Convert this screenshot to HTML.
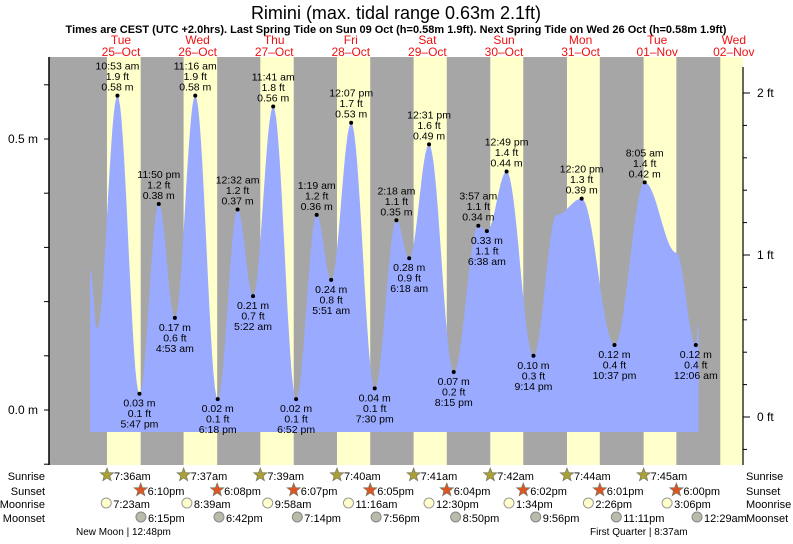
<!DOCTYPE html>
<html><head><meta charset="utf-8"><style>
body{margin:0;background:#fff;font-family:"Liberation Sans",sans-serif}
svg text{font-family:"Liberation Sans",sans-serif}
</style></head><body>
<svg id="chart" width="793" height="539" viewBox="0 0 793 539" xmlns="http://www.w3.org/2000/svg">
<text x="396" y="19" font-size="18" text-anchor="middle" fill="#000">Rimini (max. tidal range 0.63m 2.1ft)</text>
<text x="396" y="33" font-size="11" font-weight="bold" text-anchor="middle" fill="#000">Times are CEST (UTC +2.0hrs). Last Spring Tide on Sun 09 Oct (h=0.58m 1.9ft). Next Spring Tide on Wed 26 Oct (h=0.58m 1.9ft)</text>
<g id="bands"></g>
<g id="tide"></g>
<g id="axes"></g>
<g id="labels"></g>
<g id="astro"></g>
</svg>
<script>
const NS="http://www.w3.org/2000/svg";
const dayNames=["Tue","Wed","Thu","Fri","Sat","Sun","Mon","Tue","Wed"];
const dayDates=["25–Oct","26–Oct","27–Oct","28–Oct","29–Oct","30–Oct","31–Oct","01–Nov","02–Nov"];
const sunrise=["7:36am","7:37am","7:39am","7:40am","7:41am","7:42am","7:44am","7:45am","7:46am"];
const sunset=["6:10pm","6:08pm","6:07pm","6:05pm","6:04pm","6:02pm","6:01pm","6:00pm","5:59pm"];
const moonriseDay=[0,1,2,3,4,5,6,7];
const moonrise=["7:23am","8:39am","9:58am","11:16am","12:30pm","1:34pm","2:26pm","3:06pm"];
const moonsetDay=[0,1,2,3,4,5,6,8];
const moonset=["6:15pm","6:42pm","7:14pm","7:56pm","8:50pm","9:56pm","11:11pm","12:29am"];
// tide extremes (type x = unlabeled curve shape point)
const tideDay=[0,0,0,0,0,1,1,1,2,2,2,2,3,3,3,3,4,4,4,4,5,5,5,5,6,6,6,7,7,8,8];
const tideTime=["2:18 am","4:30 am","10:53 am","5:47 pm","11:50 pm","4:53 am","11:16 am","6:18 pm","12:32 am","5:22 am","11:41 am","6:52 pm","1:19 am","5:51 am","12:07 pm","7:30 pm","2:18 am","6:18 am","12:31 pm","8:15 pm","3:57 am","6:38 am","12:49 pm","9:14 pm","4:30 am","12:20 pm","10:37 pm","8:05 am","6:00 pm","12:06 am","1:00 am"];
const tideM=[0.26,0.15,0.58,0.03,0.38,0.17,0.58,0.02,0.37,0.21,0.56,0.02,0.36,0.24,0.53,0.04,0.35,0.28,0.49,0.07,0.34,0.33,0.44,0.10,0.36,0.39,0.12,0.42,0.29,0.12,0.16];
const tideFt=["","","1.9","0.1","1.2","0.6","1.9","0.1","1.2","0.7","1.8","0.1","1.2","0.8","1.7","0.1","1.1","0.9","1.6","0.2","1.1","1.1","1.4","0.3","","1.3","0.4","1.4","","0.4",""];
const tideType=["x","x","H","L","H","L","H","L","H","L","H","L","H","L","H","L","H","L","H","L","H","L","H","L","x","H","L","H","x","L","x"];
const ftTicks=[0,1,2];
const mTicks=[0,0.5];

const X0=82.7, DAY=76.6, TOP=57, BOT=465, LEFT=49, RIGHT=743;
function parseT(t){const m=t.match(/(\d+):(\d+)\s*(am|pm)/);let h=+m[1]%12;if(m[3]=="pm")h+=12;return h+(+m[2])/60;}
function xOf(day,t){return X0+day*DAY+parseT(t)*DAY/24;}
function yM(m){return 410-m*542;}
function yFt(f){return 417-f*162;}
function el(tag,attrs,parent,txt){const e=document.createElementNS(NS,tag);for(const k in attrs)e.setAttribute(k,attrs[k]);if(txt!==undefined)e.textContent=txt;parent.appendChild(e);return e;}

const bands=document.getElementById('bands');
let bg=el('rect',{x:LEFT,y:TOP,width:RIGHT-LEFT,height:BOT-TOP,fill:'#a6a6a6'},bands);


for(let i=0;i<9;i++){
  const a=xOf(i,sunrise[i]),b=Math.min(xOf(i,sunset[i]),RIGHT);
  if(a>=RIGHT)continue;
  const r=el('rect',{x:a,y:TOP,width:b-a,height:BOT-TOP,fill:'#ffffcc'},bands);
  
  
  const cx=X0+i*DAY+DAY/2;
  const t1=el('text',{x:cx,y:44,'font-size':12,'text-anchor':'middle',fill:'#ee1111'},bands,dayNames[i]);
  
  
  const t2=el('text',{x:cx,y:56,'font-size':12,'text-anchor':'middle',fill:'#ee1111'},bands,dayDates[i]);
  
  
}
const tide=document.getElementById('tide');
const xs=tideTime.map((t,i)=>xOf(tideDay[i],t));
let d=`M${xs[0]},432 L${xs[0]},${yM(tideM[0])}`;
for(let i=0;i<xs.length-1;i++){
  const xa=xs[i],xb=xs[i+1],ya=yM(tideM[i]),yb=yM(tideM[i+1]);
  for(let s=1;s<=16;s++){const f=s/16;const c=(1-Math.cos(Math.PI*f))/2;d+=` L${(xa+(xb-xa)*f).toFixed(1)},${(ya+(yb-ya)*c).toFixed(1)}`;}
}
d+=` L${xs[xs.length-1]},432 Z`;
const p=el('path',{d:d,fill:'#99aaff'},tide);


const lab=document.getElementById('labels');
for(let i=0;i<xs.length;i++){
  if(tideType[i]=="x")continue;
  const x=xs[i],y=yM(tideM[i]);
  const c=el('circle',{cx:x,cy:y,r:2,fill:'#000'},lab);
  
  
  const lines=tideType[i]=="H"?[tideTime[i],tideFt[i]+" ft",tideM[i].toFixed(2)+" m"]:[tideM[i].toFixed(2)+" m",tideFt[i]+" ft",tideTime[i]];
  const g=el('g',{},lab);
  
  
  lines.forEach((s,k)=>{
    const yy=tideType[i]=="H"?y-26+k*10.5:y+13+k*10.5;
    el('text',{x:x,y:yy,'font-size':10.5,'text-anchor':'middle',fill:'#000'},g,s);
  });
}
const ax=document.getElementById('axes');
el('line',{x1:LEFT,y1:TOP,x2:LEFT,y2:BOT,stroke:'#000','stroke-width':1.5},ax);
el('line',{x1:RIGHT,y1:TOP+10,x2:RIGHT,y2:BOT,stroke:'#333','stroke-width':1.5},ax);
for(let m=-0.1;m<=0.6;m+=0.1){el('line',{x1:LEFT-5,y1:yM(m),x2:LEFT,y2:yM(m),stroke:'#000'},ax);}
mTicks.forEach(m=>{const t=el('text',{x:38,y:yM(m)+4,'font-size':12,'text-anchor':'end'},ax,m.toFixed(1)+" m");

});
for(let f=0;f<=2.01;f+=0.2){el('line',{x1:RIGHT,y1:yFt(f),x2:RIGHT+4,y2:yFt(f),stroke:'#000'},ax);}
el('line',{x1:RIGHT,y1:yFt(-0.2),x2:RIGHT+4,y2:yFt(-0.2),stroke:'#000'},ax);
ftTicks.forEach(f=>{el('line',{x1:RIGHT,y1:yFt(f),x2:RIGHT+7,y2:yFt(f),stroke:'#000'},ax);
const t=el('text',{x:757,y:yFt(f)+4,'font-size':12},ax,f+" ft");

});
const as=document.getElementById('astro');
const rows=[["Sunrise",480],["Sunset",495],["Moonrise",508],["Moonset",522]];
rows.forEach(r=>{
  const a=el('text',{x:45,y:r[1],'font-size':11,'text-anchor':'end'},as,r[0]);
  
  
  const b=el('text',{x:746,y:r[1],'font-size':11},as,r[0]);
  
  
});
function star(cx,cy,fill){let pts=[];for(let k=0;k<10;k++){const rr=k%2?3:7;const an=-Math.PI/2+k*Math.PI/5;pts.push((cx+rr*Math.cos(an)).toFixed(1)+","+(cy+rr*Math.sin(an)).toFixed(1));}
return el('polygon',{points:pts.join(" "),fill:fill,stroke:'#776',"stroke-width":0.7},as);}
for(let i=0;i<8;i++){
  let x=xOf(i,sunrise[i]);
  const s=star(x,475,'#aaa033');
  
  
  el('text',{x:x+7,y:480,'font-size':11},as,sunrise[i]);
  x=xOf(i,sunset[i]);
  const s2=star(x,490,'#dd5522');
  
  
  el('text',{x:x+7,y:495,'font-size':11},as,sunset[i]);
}
moonrise.forEach((t,i)=>{const x=xOf(moonriseDay[i],t);
  const c=el('circle',{cx:x,cy:503,r:5,fill:'#ffffcc',stroke:'#999'},as);
  
  
  el('text',{x:x+7,y:508,'font-size':11},as,t);});
moonset.forEach((t,i)=>{const x=xOf(moonsetDay[i],t);
  const c=el('circle',{cx:x,cy:517,r:5,fill:'#bbbbaa',stroke:'#888'},as);
  
  
  el('text',{x:x+7,y:522,'font-size':11},as,t);});
const nm=el('text',{x:76,y:535,'font-size':10},as,"New Moon | 12:48pm");


const fq=el('text',{x:590,y:535,'font-size':10},as,"First Quarter | 8:37am");


</script>
</body></html>
